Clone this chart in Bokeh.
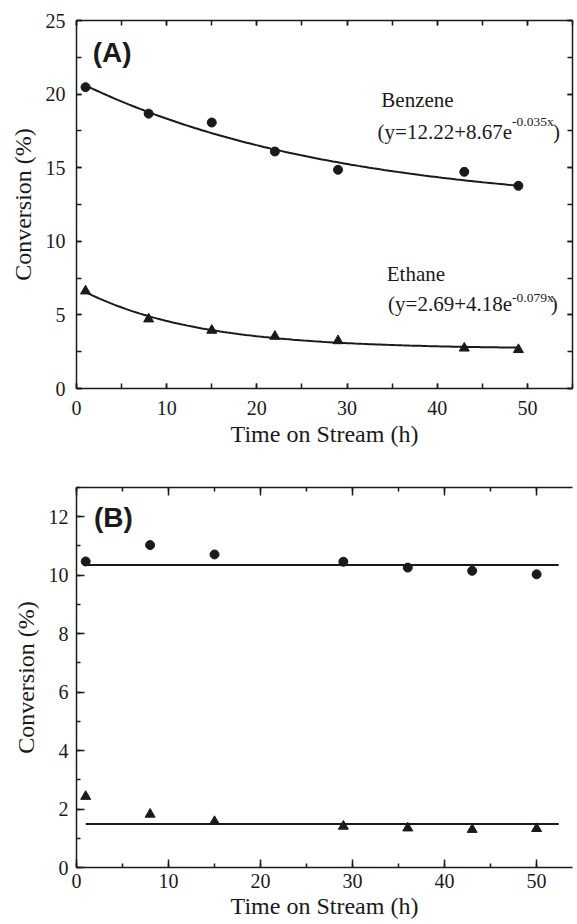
import numpy as np
from bokeh.plotting import figure
from bokeh.layouts import column
from bokeh.models import LinearAxis, SingleIntervalTicker, Range1d, Label, CustomJSTickFormatter
from bokeh.embed import file_html
from bokeh.resources import INLINE

# ---------------- data ----------------
# Panel A
a_time = [1, 8, 15, 22, 29, 43, 49]
a_benzene = [20.47, 18.67, 18.07, 16.10, 14.86, 14.72, 13.77]
a_ethane = [6.62, 4.72, 3.95, 3.54, 3.24, 2.74, 2.64]
benzene_fit = (12.22, 8.67, 0.035)   # y = a + b*exp(-c x)
ethane_fit = (2.69, 4.18, 0.079)
fit_span = [1, 49]

# Panel B
b_time = [1, 8, 15, 29, 36, 43, 50]
b_benzene = [10.47, 11.03, 10.71, 10.46, 10.26, 10.15, 10.03]
b_ethane = [2.43, 1.82, 1.57, 1.41, 1.35, 1.30, 1.33]
b_mean_span = [1, 52.4]
b_benzene_mean = 10.35
b_ethane_mean = 1.49

SERIF = "Liberation Serif"
SANS = "Liberation Sans"
INK = "#1a1a1a"


def style_axis(ax, major_in, minor_in, labels=True, tick_size="20px", standoff=10):
    ax.axis_line_color = INK
    ax.axis_line_width = 1.5
    ax.major_tick_in = major_in
    ax.major_tick_out = 0
    ax.minor_tick_in = minor_in
    ax.minor_tick_out = 0
    ax.major_tick_line_color = INK
    ax.minor_tick_line_color = INK
    ax.major_tick_line_width = 1.5
    ax.minor_tick_line_width = 1.5
    ax.major_label_text_font = SERIF
    ax.major_label_text_font_size = tick_size
    ax.major_label_text_color = INK
    ax.major_label_standoff = standoff
    ax.axis_label_text_font = SERIF
    ax.axis_label_text_font_size = "24px"
    ax.axis_label_text_font_style = "normal"
    ax.axis_label_text_color = INK
    if not labels:
        ax.formatter = CustomJSTickFormatter(code="return ''")
        ax.major_label_standoff = 0


def fit_curve(params, span):
    a, b, c = params
    xs = np.linspace(span[0], span[1], 120)
    return xs, a + b * np.exp(-c * xs)


# ---------------- Panel A ----------------
pa = figure(width=577, height=452, output_backend="svg", toolbar_location=None,
            x_range=Range1d(0, 55), y_range=Range1d(0, 25),
            min_border_left=76, min_border_right=5, min_border_top=20, min_border_bottom=64)
pa.xgrid.visible = False
pa.ygrid.visible = False
pa.outline_line_color = None
pa.background_fill_color = "white"
pa.border_fill_color = "white"

xt_a = SingleIntervalTicker(interval=10, num_minor_ticks=2)
yt_a = SingleIntervalTicker(interval=5, num_minor_ticks=2)
pa.xaxis.ticker = xt_a
pa.yaxis.ticker = yt_a
style_axis(pa.xaxis[0], 5, 5, standoff=12)
style_axis(pa.yaxis[0], 5, 5, standoff=11)
pa.xaxis.axis_label = "Time on Stream (h)"
pa.yaxis.axis_label = "Conversion (%)"
pa.xaxis.axis_label_standoff = 3
pa.yaxis.axis_label_standoff = 7

top_a = LinearAxis(ticker=SingleIntervalTicker(interval=10, num_minor_ticks=2))
style_axis(top_a, 5, 5, labels=False)
pa.add_layout(top_a, "above")
right_a = LinearAxis(ticker=SingleIntervalTicker(interval=5, num_minor_ticks=2))
style_axis(right_a, 5, 5, labels=False)
pa.add_layout(right_a, "right")

bx, by = fit_curve(benzene_fit, fit_span)
ex, ey = fit_curve(ethane_fit, fit_span)
pa.line(bx, by, line_color=INK, line_width=2)
pa.line(ex, ey, line_color=INK, line_width=2)
pa.scatter(a_time, a_benzene, marker="circle", size=9, fill_color=INK, line_color=INK)
pa.scatter(a_time, a_ethane, marker="triangle", size=10, fill_color=INK, line_color=INK)

pa.add_layout(Label(x=1.8, y=23.9, text="(A)", text_font=SANS, text_font_style="bold",
                    text_font_size="28px", text_color=INK, text_baseline="top"))
# Benzene annotation
pa.add_layout(Label(x=33.8, y=18.8, text="Benzene", text_font=SERIF,
                    text_font_size="21px", text_color=INK))
pa.add_layout(Label(x=48.3, y=16.62, text="(y=12.22+8.67e", text_font=SERIF,
                    text_font_size="21px", text_color=INK, text_align="right"))
pa.add_layout(Label(x=48.3, y=17.65, text="-0.035x", text_font=SERIF,
                    text_font_size="13.5px", text_color=INK, text_align="left"))
pa.add_layout(Label(x=52.85, y=16.62, text=")", text_font=SERIF,
                    text_font_size="21px", text_color=INK))
# Ethane annotation
pa.add_layout(Label(x=34.4, y=6.99, text="Ethane", text_font=SERIF,
                    text_font_size="21px", text_color=INK))
pa.add_layout(Label(x=48.3, y=4.95, text="(y=2.69+4.18e", text_font=SERIF,
                    text_font_size="21px", text_color=INK, text_align="right"))
pa.add_layout(Label(x=48.3, y=5.65, text="-0.079x", text_font=SERIF,
                    text_font_size="13.5px", text_color=INK, text_align="left"))
pa.add_layout(Label(x=52.6, y=4.95, text=")", text_font=SERIF,
                    text_font_size="21px", text_color=INK))

# ---------------- Panel B ----------------
pb = figure(width=577, height=472, output_backend="svg", toolbar_location=None,
            x_range=Range1d(0, 53.9), y_range=Range1d(0, 13),
            min_border_left=70, min_border_right=0, min_border_top=35, min_border_bottom=57)
pb.xgrid.visible = False
pb.ygrid.visible = False
pb.outline_line_color = None
pb.background_fill_color = "white"
pb.border_fill_color = "white"

pb.xaxis.ticker = SingleIntervalTicker(interval=10, num_minor_ticks=2)
pb.yaxis.ticker = SingleIntervalTicker(interval=2, num_minor_ticks=2)
style_axis(pb.xaxis[0], 8, 4, standoff=6)
style_axis(pb.yaxis[0], 8, 4, standoff=8)
pb.xaxis.axis_label = "Time on Stream (h)"
pb.yaxis.axis_label = "Conversion (%)"
pb.xaxis.axis_label_standoff = 2
pb.yaxis.axis_label_standoff = 7

top_b = LinearAxis(ticker=SingleIntervalTicker(interval=10, num_minor_ticks=2))
style_axis(top_b, 8, 4, labels=False)
pb.add_layout(top_b, "above")

pb.line(b_mean_span, [b_benzene_mean] * len(b_mean_span), line_color=INK, line_width=2)
pb.line(b_mean_span, [b_ethane_mean] * len(b_mean_span), line_color=INK, line_width=2)
pb.scatter(b_time, b_benzene, marker="circle", size=9, fill_color=INK, line_color=INK)
pb.scatter(b_time, b_ethane, marker="triangle", size=10, fill_color=INK, line_color=INK)

pb.add_layout(Label(x=1.9, y=12.5, text="(B)", text_font=SANS, text_font_style="bold",
                    text_font_size="28px", text_color=INK, text_baseline="top"))

layout = column(pa, pb, spacing=0)
open("out.html", "w").write(file_html(layout, INLINE))
